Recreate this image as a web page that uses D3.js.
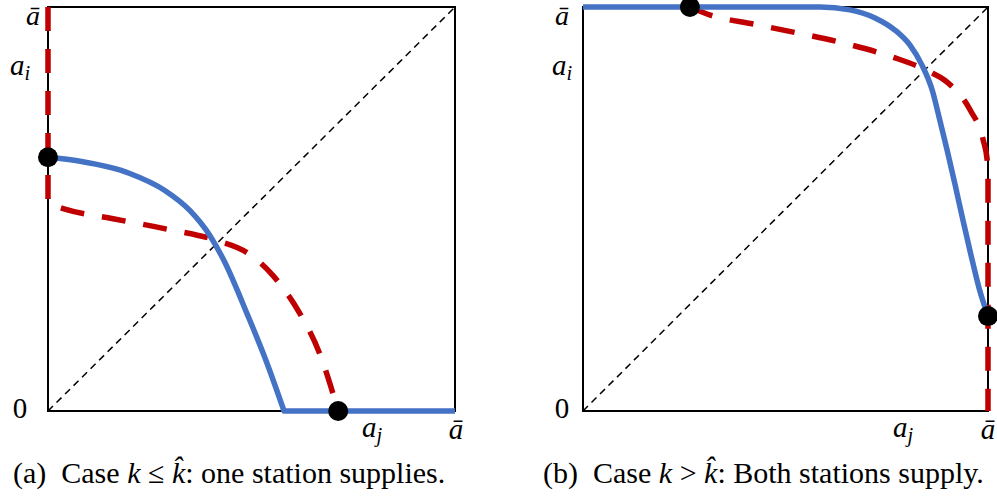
<!DOCTYPE html>
<html><head><meta charset="utf-8">
<script src="https://cdn.jsdelivr.net/npm/d3@7"></script>
<style>
html,body{margin:0;padding:0;background:#fff;}
text{font-family:"Liberation Serif","Times New Roman",serif;fill:#000;}
</style></head>
<body><svg id="chart" width="997" height="498"></svg>
<script>
// ---------- DATA (normalised 0..1 strategy space, a_j on x, a_i on y) ----------
// Panel (a): case k <= k-hat
const aBlue = [[0,0.628],[0.079,0.618],[0.201,0.588],[0.287,0.546],[0.349,0.496],[0.398,0.434],[0.435,0.367],[0.489,0.241],[0.536,0.124],[0.580,0]];
const aBlueTail = [[0.580,0],[1,0]];
const aRedEdge = [[0,1],[0,0.514]];
const aRed = [[0,0.514],[0.037,0.501],[0.160,0.476],[0.283,0.452],[0.415,0.422],[0.489,0.392],[0.553,0.335],[0.619,0.241],[0.668,0.141],[0.713,0]];
const aDots = [[0,0.628],[0.713,0]];
// Panel (b): case k > k-hat
const bBlue = [[0,1],[0.585,1],[0.659,0.993],[0.721,0.973],[0.770,0.943],[0.807,0.906],[0.837,0.856],[0.862,0.795],[0.881,0.720],[0.899,0.646],[0.919,0.559],[0.938,0.473],[0.958,0.386],[0.978,0.304],[1,0.235]];
const bRed = [[0.264,1],[0.314,0.980],[0.420,0.958],[0.528,0.936],[0.642,0.911],[0.765,0.876],[0.857,0.839],[0.899,0.814],[0.956,0.745],[0.988,0.671],[0.998,0.621],[1,0.58]];
const bRedEdge = [[1,0.58],[1,0]];
const bDots = [[0.264,1],[1,0.235]];
const diag = [[0,0],[1,1]];
const captions = [
  {label:"(a)", pre:"Case ", k:"k", rel:" \u2264 ", hat:"k\u0302", post:": one station supplies."},
  {label:"(b)", pre:"Case ", k:"k", rel:" > ", hat:"k\u0302", post:": Both stations supply."}
];

const BLUE="#4472C4", RED="#C00000";
const svg = d3.select("#chart");
svg.append("rect").attr("width",997).attr("height",498).attr("fill","#fff");

const panels = [
  {left:48, right:455, top:7, bottom:411, blue:aBlue, blueTail:aBlueTail, redPre:aRedEdge, red:aRed, redPost:null, dots:aDots, cap:captions[0], capX:13,
   lab:{abarTop:[33,25], ai:[20,75], zero:[20,418], aj:[372,437], abarR:[456,439]}},
  {left:583, right:988, top:7, bottom:411, blue:bBlue, blueTail:null, redPre:null, red:bRed, redPost:bRedEdge, dots:bDots, cap:captions[1], capX:543,
   lab:{abarTop:[562,25], ai:[562,75], zero:[562,418], aj:[903,437], abarR:[988,439]}}
];

panels.forEach(p=>{
  const x = d3.scaleLinear().domain([0,1]).range([p.left,p.right]);
  const y = d3.scaleLinear().domain([0,1]).range([p.bottom,p.top]);
  const g = svg.append("g");
  const lin = d3.line().x(d=>x(d[0])).y(d=>y(d[1]));
  const cur = d3.line().x(d=>x(d[0])).y(d=>y(d[1])).curve(d3.curveMonotoneX);

  // frame
  g.append("rect").attr("x",x(0)).attr("y",y(1)).attr("width",x(1)-x(0)).attr("height",y(0)-y(1))
    .attr("fill","none").attr("stroke","#000").attr("stroke-width",2);
  // diagonal 45 degree
  g.append("path").attr("d",lin(diag)).attr("fill","none").attr("stroke","#000")
    .attr("stroke-width",1.5).attr("stroke-dasharray","7,5");

  // red dashed best response
  let d = "";
  if(p.redPre){ d += lin(p.redPre); d += cur(p.red).replace(/^M/,"L"); }
  else { d += cur(p.red); }
  if(p.redPost){ d += lin(p.redPost).replace(/^M/,"L"); }
  g.append("path").attr("d",d).attr("fill","none").attr("stroke",RED)
    .attr("stroke-width",5.5).attr("stroke-dasharray","24,18");

  // blue best response
  let db = cur(p.blue);
  if(p.blueTail) db += lin(p.blueTail).replace(/^M/,"L");
  g.append("path").attr("d",db).attr("fill","none").attr("stroke",BLUE)
    .attr("stroke-width",5.5).attr("stroke-linejoin","round");

  // equilibrium dots
  g.selectAll("circle.dot").data(p.dots).join("circle").attr("class","dot")
    .attr("cx",d=>x(d[0])).attr("cy",d=>y(d[1])).attr("r",10).attr("fill","#000");

  // labels
  const fs = 29;
  const abar = (pos, size)=>{
    g.append("text").attr("x",pos[0]).attr("y",pos[1]).attr("text-anchor","middle")
      .attr("font-size",size).attr("font-style","italic").text("\u0101");
  };
  abar(p.lab.abarTop, 28); abar(p.lab.abarR, fs);
  const sub = (pos, s)=>{
    const t = g.append("text").attr("x",pos[0]).attr("y",pos[1]).attr("text-anchor","middle").attr("font-size",fs);
    t.append("tspan").attr("font-style","italic").text("a");
    t.append("tspan").attr("font-style","italic").attr("font-size",fs*0.7).attr("dy",5).text(s);
  };
  sub(p.lab.ai,"i"); sub(p.lab.aj,"j");
  g.append("text").attr("x",p.lab.zero[0]).attr("y",p.lab.zero[1]).attr("text-anchor","middle").attr("font-size",fs).text("0");

  // caption
  const c = p.cap;
  const t = g.append("text").attr("x",p.capX).attr("y",483).attr("font-size",30).attr("xml:space","preserve");
  t.append("tspan").text(c.label+"  "+c.pre);
  t.append("tspan").attr("font-style","italic").text(c.k);
  t.append("tspan").text(c.rel);
  t.append("tspan").attr("font-style","italic").text(c.hat);
  t.append("tspan").text(c.post);
});
</script></body></html>
